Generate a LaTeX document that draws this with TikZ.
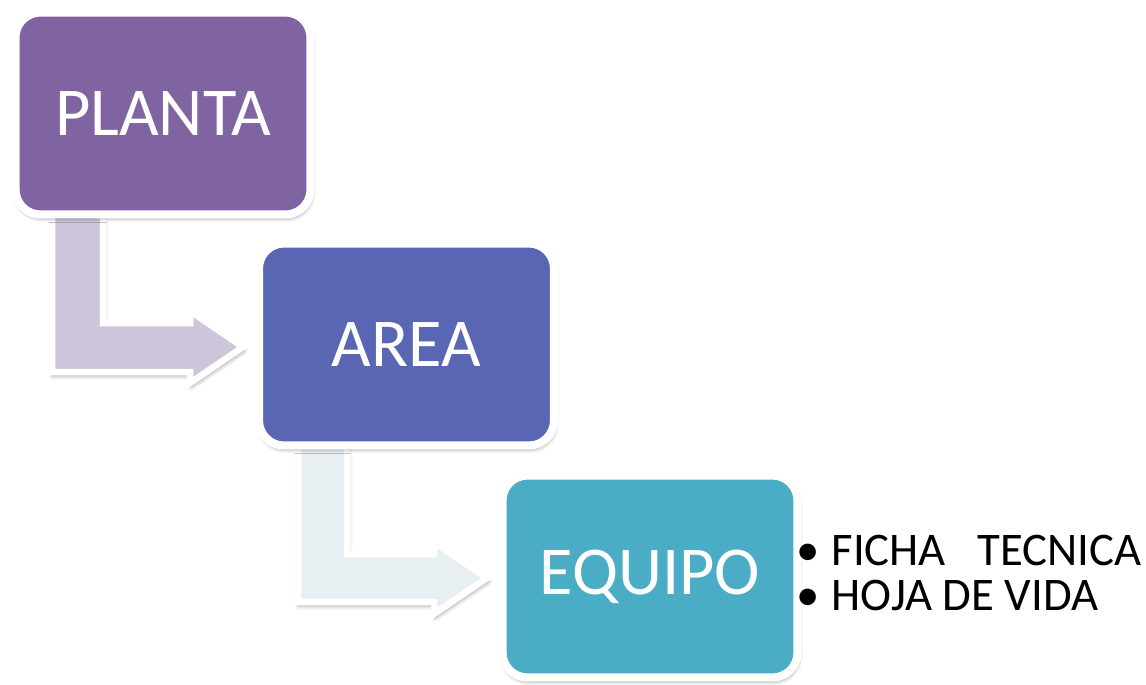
\documentclass[tikz,border=0pt]{standalone}
\usepackage{fontspec}
\setmainfont{Carlito}
\usepackage{tikz}
\usetikzlibrary{shadows,shadows.blur}
\usepackage{xcolor}

\definecolor{morado}{HTML}{8064A2}
\definecolor{azul}{HTML}{5966B3}
\definecolor{turquesa}{HTML}{4BACC6}
\definecolor{lila}{HTML}{CDC6DA}
\definecolor{celeste}{HTML}{E8EFF3}

\tikzset{
	sombra/.style={blur shadow={shadow xshift=0.02cm,shadow yshift=-0.07cm,
		shadow blur radius=0.09cm,shadow opacity=45}},
	caja/.style={rectangle,rounded corners=0.5cm,draw=white,line width=0.16cm,
		minimum width=5.9cm,minimum height=4.04cm,text=white,
		font=\fontsize{39}{47}\selectfont,sombra},
	flecha/.style={draw=white,line width=0.13cm,line join=miter,sombra},
	punto/.style={anchor=base west,inner sep=0pt,font=\fontsize{26.6}{32}\selectfont}
}

\begin{document}
\begin{tikzpicture}[x=0.02cm,y=-0.02cm]
	\useasboundingbox (0,0) rectangle (1146,684);
	% flechas en L
	\draw[flecha,fill=lila] (52,200) -- (103,200) -- (103,323) -- (190,323) -- (190,311)
		-- (243,347) -- (190,383) -- (190,372) -- (52,372) -- cycle;
	\draw[flecha,fill=celeste] (298,430) -- (347,430) -- (347,554) -- (434,554) -- (434,542)
		-- (487,578) -- (434,614) -- (434,602) -- (298,602) -- cycle;
	% cajas
	\node[caja,fill=morado] (planta) at (163,113.5) {PLANTA};
	\node[caja,fill=azul] (area) at (406.5,344.5) {AREA};
	\node[caja,fill=turquesa] (equipo) at (650,576.5) {EQUIPO};
	% lista
	\node[punto] (ficha) at (796,565) {\textbullet\hspace{0.24cm}FICHA\ \ \ TECNICA};
	\node[punto] (hoja) at (796,610) {\textbullet\hspace{0.24cm}HOJA DE VIDA};
\end{tikzpicture}
\end{document}
